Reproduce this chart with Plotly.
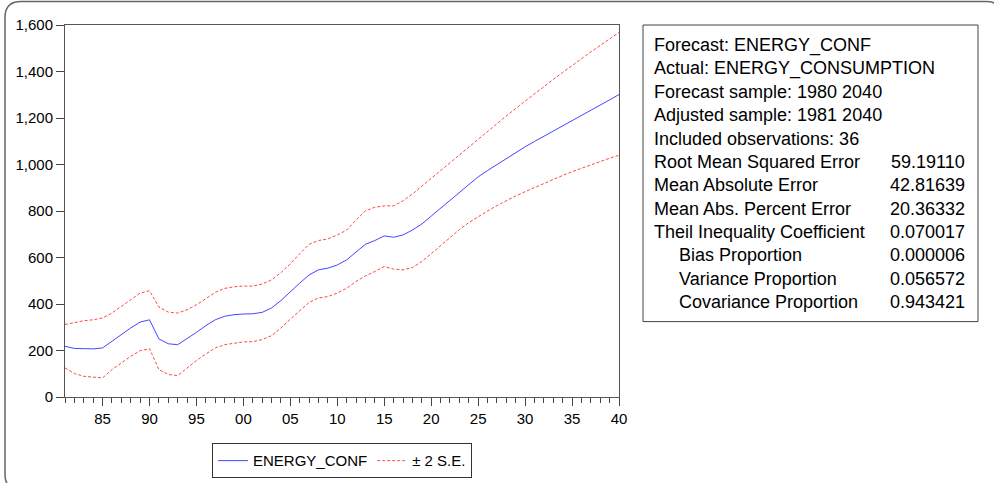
import plotly.graph_objects as go

# ---- data -------------------------------------------------------------
years = list(range(1981, 2041))

forecast = [
    218, 209, 208, 207, 211, 240, 268, 297, 322, 332,
    250, 229, 225, 250, 278, 307, 332, 347, 354, 357,
    358, 364, 383, 415, 454, 490, 525, 547, 554, 568,
    590, 625, 657, 673, 693, 687, 697, 718, 744, 778,
    812, 846, 880, 914, 947, 974, 1000, 1026, 1051, 1076,
    1099, 1121, 1144, 1166, 1188, 1211, 1233, 1256, 1278, 1301,
]
upper = [
    312, 321, 328, 332, 340, 361, 390, 418, 447, 457,
    387, 365, 361, 375, 397, 423, 450, 467, 474, 477,
    477, 486, 504, 535, 573, 616, 657, 673, 680, 697,
    718, 761, 801, 816, 822, 822, 844, 873, 907, 940,
    974, 1008, 1043, 1077, 1110, 1143, 1176, 1209, 1241, 1273,
    1304, 1335, 1366, 1396, 1426, 1455, 1484, 1512, 1540, 1568,
]
lower = [
    125, 101, 89, 85, 82, 118, 147, 175, 199, 208,
    118, 97, 92, 125, 157, 185, 211, 225, 232, 237,
    238, 247, 264, 297, 335, 371, 407, 426, 432, 447,
    468, 497, 521, 540, 561, 550, 547, 557, 583, 616,
    652, 688, 720, 750, 776, 800, 823, 845, 865, 883,
    901, 919, 936, 953, 969, 984, 999, 1013, 1027, 1040,
]

x_tick_years = [1985, 1990, 1995, 2000, 2005, 2010, 2015, 2020, 2025, 2030, 2035, 2040]
x_tick_labels = ["85", "90", "95", "00", "05", "10", "15", "20", "25", "30", "35", "40"]
y_ticks = [0, 200, 400, 600, 800, 1000, 1200, 1400, 1600]

stat_labels = [
    "Forecast: ENERGY_CONF",
    "Actual: ENERGY_CONSUMPTION",
    "Forecast sample: 1980 2040",
    "Adjusted sample: 1981 2040",
    "Included observations: 36",
    "Root Mean Squared Error",
    "Mean Absolute Error",
    "Mean Abs. Percent Error",
    "Theil Inequality Coefficient",
    "Bias Proportion",
    "Variance Proportion",
    "Covariance Proportion",
]
stat_values = ["", "", "", "", "", "59.19110", "42.81639", "20.36332",
               "0.070017", "0.000006", "0.056572", "0.943421"]
stat_indent = [False] * 9 + [True] * 3

# ---- layout geometry (pixels) -----------------------------------------
W, H = 994, 483
L, R, T, B = 65, 619, 25, 397.5
FONT = "Liberation Sans, Arial, sans-serif"


def px(x):
    return (x - L) / (R - L)


def py(y):
    return (B - y) / (B - T)


BLUE = "rgb(70,70,255)"
RED = "rgb(255,70,70)"

fig = go.Figure()
fig.add_trace(go.Scatter(x=years, y=forecast, mode="lines", name="ENERGY_CONF",
                         line=dict(color=BLUE, width=1)))
fig.add_trace(go.Scatter(x=years, y=upper, mode="lines", name="± 2 S.E.",
                         line=dict(color=RED, width=1, dash="3px,2px")))
fig.add_trace(go.Scatter(x=years, y=lower, mode="lines", name="± 2 S.E.",
                         showlegend=False,
                         line=dict(color=RED, width=1, dash="3px,2px")))

shapes = []
# rounded outer frame (runs past the right and bottom page edges)
x0, x1, y0, y1, r = 5, 1002, 1.5, 491, 16
path = (f"M {px(x0)},{py(y0 + r)} Q {px(x0)},{py(y0)} {px(x0 + r)},{py(y0)} "
        f"L {px(x1 - r)},{py(y0)} Q {px(x1)},{py(y0)} {px(x1)},{py(y0 + r)} "
        f"L {px(x1)},{py(y1 - r)} Q {px(x1)},{py(y1)} {px(x1 - r)},{py(y1)} "
        f"L {px(x0 + r)},{py(y1)} Q {px(x0)},{py(y1)} {px(x0)},{py(y1 - r)} Z")
shapes.append(dict(type="path", xref="paper", yref="paper", path=path,
                   line=dict(color="#666666", width=1.5), layer="below"))
# statistics box
shapes.append(dict(type="rect", xref="paper", yref="paper",
                   x0=px(643), x1=px(978), y0=py(25), y1=py(322),
                   line=dict(color="#444444", width=1)))

annotations = []
for i, (lab, val, ind) in enumerate(zip(stat_labels, stat_values, stat_indent)):
    yc = 45.5 + i * 23.35
    annotations.append(dict(xref="paper", yref="paper", x=px(677 if ind else 651.5),
                            y=py(yc), text=lab, showarrow=False, xanchor="left",
                            yanchor="middle", font=dict(family=FONT, size=18, color="black")))
    if val:
        annotations.append(dict(xref="paper", yref="paper", x=px(967), y=py(yc),
                                text=val, showarrow=False, xanchor="right",
                                yanchor="middle",
                                font=dict(family=FONT, size=18, color="black")))

fig.update_layout(
    width=W, height=H, autosize=False,
    margin=dict(l=L, r=W - R, t=T, b=H - B, autoexpand=False),
    paper_bgcolor="white", plot_bgcolor="white",
    font=dict(family=FONT, size=15, color="black"),
    showlegend=True,
    legend=dict(orientation="h", x=0.5, xanchor="center", y=py(479), yanchor="bottom",
                bordercolor="#333333", borderwidth=1, bgcolor="white",
                font=dict(family=FONT, size=15, color="black"),
                itemwidth=30, tracegroupgap=0),
    shapes=shapes,
    annotations=annotations,
    xaxis=dict(range=[1981, 2040], tickvals=x_tick_years, ticktext=x_tick_labels,
               ticks="outside", ticklen=8, tickcolor="#444444", tickwidth=1,
               showline=True, linecolor="#555555", linewidth=1, mirror=True,
               showgrid=False, zeroline=False,
               minor=dict(dtick=1, tick0=1981, ticks="outside", ticklen=5,
                          tickcolor="#444444", showgrid=False),
               tickfont=dict(family=FONT, size=15, color="black")),
    yaxis=dict(range=[0, 1600], tickvals=y_ticks, tickformat=",d",
               ticks="outside", ticklen=8, tickcolor="#444444", tickwidth=1,
               showline=True, linecolor="#555555", linewidth=1, mirror=True,
               showgrid=False, zeroline=False,
               tickfont=dict(family=FONT, size=15, color="black")),
)

fig.write_html("out.html")
